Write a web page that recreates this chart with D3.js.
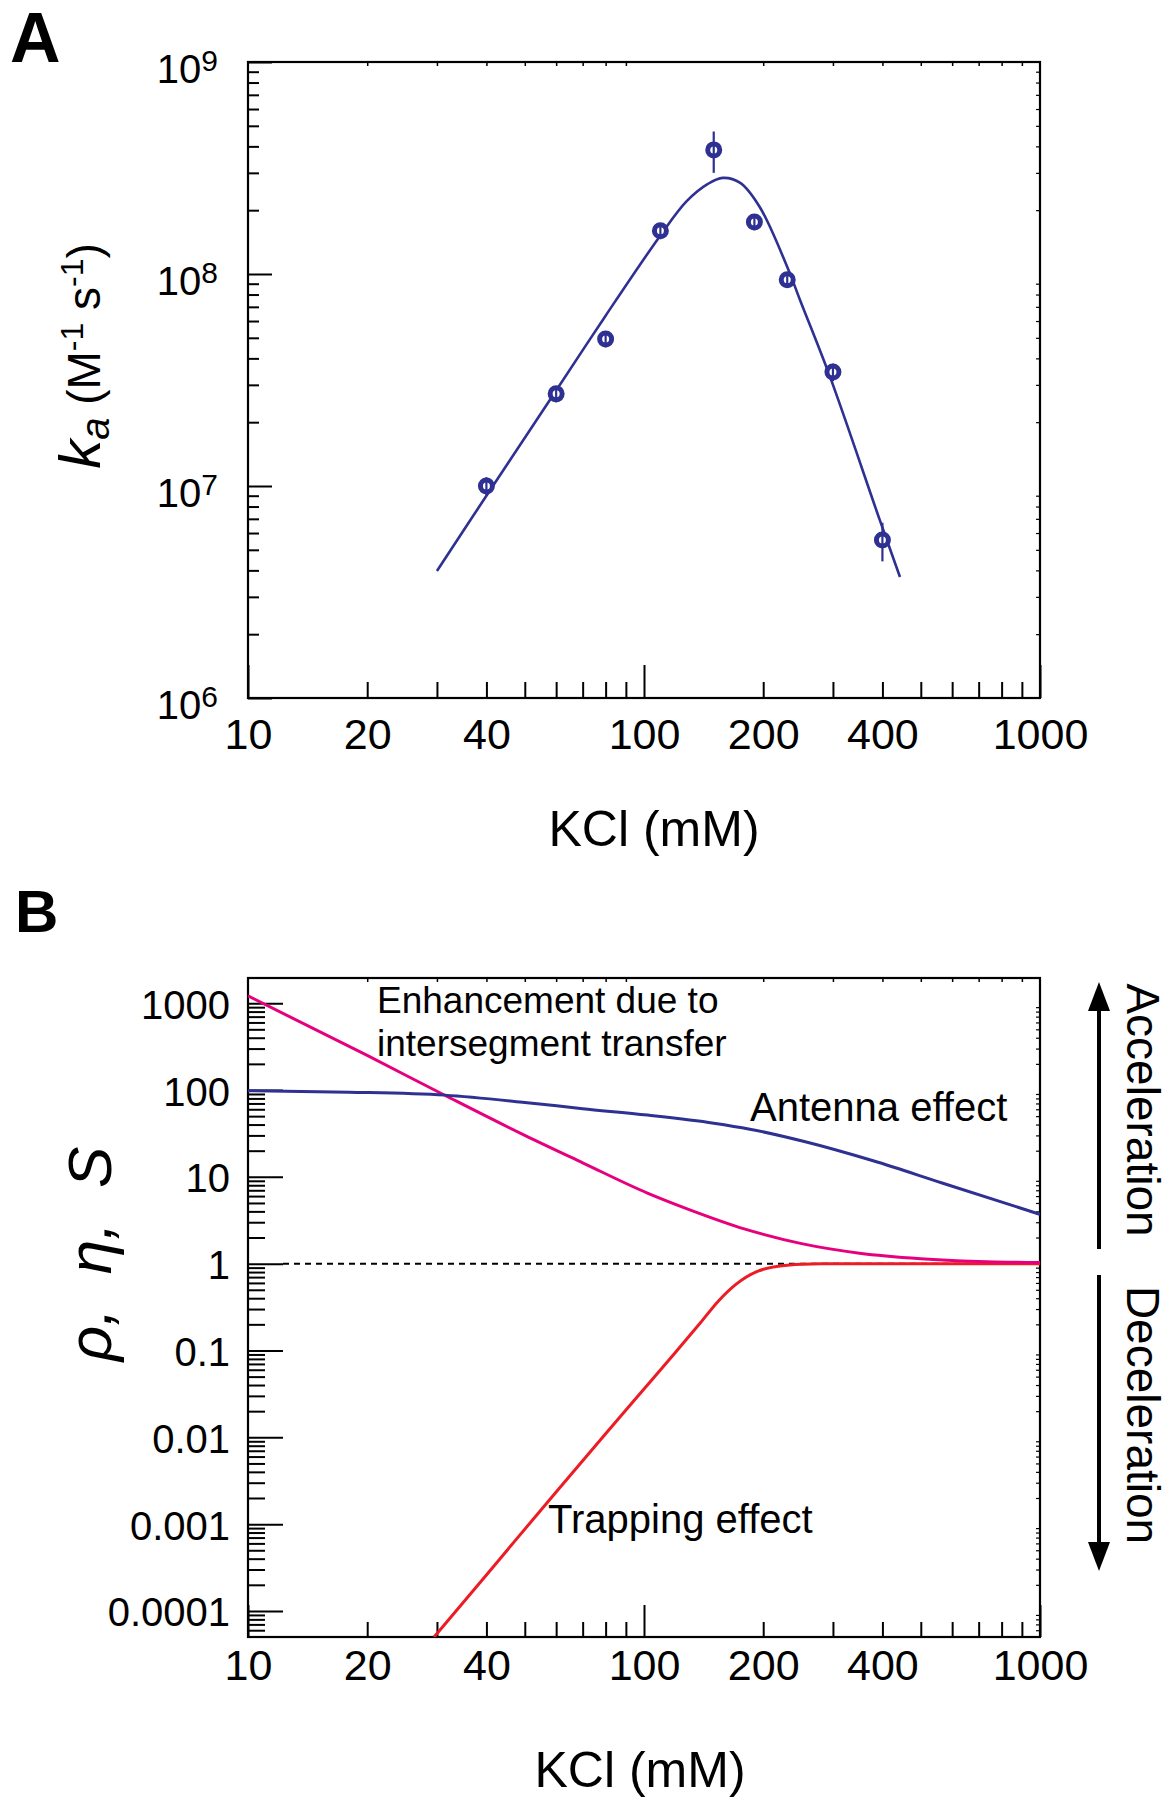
<!DOCTYPE html>
<html>
<head>
<meta charset="utf-8">
<script src="https://cdn.jsdelivr.net/npm/d3@7"></script>
<style>
  html, body { margin: 0; padding: 0; background: #fff; }
  svg { display: block; }
  text { font-family: 'Liberation Sans', Arial, Helvetica, sans-serif; fill: #000; }
</style>
</head>
<body>
<svg id="chart" width="1176" height="1800"></svg>
<script>
// ---------------- DATA ----------------
// Panel A: measured association rate constants
const kclA   = [40, 60, 80, 110, 150, 190, 230, 300, 400];
const kaA    = [1.0e7, 2.72e7, 4.94e7, 1.6e8, 3.85e8, 1.76e8, 9.4e7, 3.45e7, 5.56e6];
const kaErr  = [1.0e6, 2.4e6, 4.3e6, 1.4e7, 8.5e7, 1.5e7, 8.0e6, 3.3e6, 1.15e6];
// Panel A: fitted curve
const fitKCl = [30, 40, 60, 80, 110, 128, 145, 158, 175, 196, 230, 248, 295, 394, 443];
const fitKa  = [3.97e6, 9.0e6, 2.82e7, 6.36e7, 1.52e8, 2.2e8, 2.66e8, 2.84e8, 2.69e8, 2.07e8, 1.08e8, 7.5e7, 3.27e7, 6.9e6, 3.72e6];

// Panel B curves
const antKCl = [10, 18, 31.4, 50, 70, 102, 150, 185, 254, 379, 566, 1000];
const antVal = [98, 94.5, 87.3, 72, 61, 51.4, 41.5, 35.4, 25.5, 15.3, 8.5, 3.7];
const enhKCl = [10, 20, 31.4, 50, 70, 102, 130, 180, 250, 350, 500, 700, 1000];
const enhVal = [1213, 250, 87, 30, 14.5, 6.5, 4.2, 2.5, 1.7, 1.32, 1.14, 1.06, 1.03];
const trpKCl = [29.5, 40, 60, 80, 100, 120, 139, 154, 170, 194, 230, 280, 350, 500, 1000];
const trpVal = [5.0e-5, 2.6e-4, 2.35e-3, 1.1e-2, 3.6e-2, 0.095, 0.21, 0.37, 0.57, 0.82, 0.96, 0.995, 1.0, 1.0, 1.0];

// Tick labels
const xTickVals   = [10, 20, 40, 100, 200, 400, 1000];
const xTickLabels = ["10", "20", "40", "100", "200", "400", "1000"];
const yATickVals  = [1e6, 1e7, 1e8, 1e9];
const yATickExp   = ["6", "7", "8", "9"];
const yBTickVals  = [1000, 100, 10, 1, 0.1, 0.01, 0.001, 0.0001];
const yBTickLabels = ["1000", "100", "10", "1", "0.1", "0.01", "0.001", "0.0001"];

// ---------------- STYLE ----------------
const BLUE = "#2e3192", PINK = "#e6007e", RED = "#ed1c24";
const svg = d3.select("#chart");

function minorsBetween(lo, hi) {
  const out = [];
  for (let e = -6; e <= 9; e++) {
    for (let k = 2; k <= 9; k++) {
      const v = k * Math.pow(10, e);
      if (v > lo * 1.0001 && v < hi * 0.9999) out.push(v);
    }
  }
  return out;
}
function majorsBetween(lo, hi) {
  const out = [];
  for (let e = -6; e <= 9; e++) {
    const v = Math.pow(10, e);
    if (v >= lo * 0.9999 && v <= hi * 1.0001) out.push(v);
  }
  return out;
}
function styleAxis(sel, w) {
  sel.select(".domain").remove();
  sel.selectAll("line").attr("stroke", "#000").attr("stroke-width", w || 2);
}

function drawFrame(x, y, o) {
  const [x0, x1] = x.range(), [y0, y1] = y.range();
  const xd = x.domain(), yd = y.domain();
  const g = svg.append("g");
  g.append("g").attr("transform", `translate(0,${y0})`)
    .call(d3.axisBottom(x).tickValues(minorsBetween(xd[0], xd[1])).tickSize(-o.xMinor).tickFormat(""))
    .call(s => styleAxis(s));
  g.append("g").attr("transform", `translate(0,${y0})`)
    .call(d3.axisBottom(x).tickValues(majorsBetween(xd[0], xd[1])).tickSize(-o.xMajor).tickFormat(""))
    .call(s => styleAxis(s));
  g.append("g").attr("transform", `translate(0,${y1})`)
    .call(d3.axisTop(x).tickValues(minorsBetween(xd[0], xd[1])).tickSize(-4).tickFormat(""))
    .call(s => styleAxis(s, 1.5));
  g.append("g").attr("transform", `translate(${x0},0)`)
    .call(d3.axisLeft(y).tickValues(minorsBetween(yd[0], yd[1])).tickSize(-o.yMinor).tickFormat(""))
    .call(s => styleAxis(s));
  g.append("g").attr("transform", `translate(${x0},0)`)
    .call(d3.axisLeft(y).tickValues(majorsBetween(yd[0], yd[1])).tickSize(-o.yMajor).tickFormat(""))
    .call(s => styleAxis(s));
  g.append("g").attr("transform", `translate(${x1},0)`)
    .call(d3.axisRight(y).tickValues(minorsBetween(yd[0], yd[1])).tickSize(-4).tickFormat(""))
    .call(s => styleAxis(s, 1.2));
  g.append("rect").attr("x", x0).attr("y", y1).attr("width", x1 - x0).attr("height", y0 - y1)
    .attr("fill", "none").attr("stroke", "#000").attr("stroke-width", 2.2);
  g.append("g").attr("transform", `translate(0,${y0})`)
    .call(d3.axisBottom(x).tickValues(xTickVals).tickSize(0)
      .tickFormat((d, i) => xTickLabels[i]))
    .call(s => { s.select(".domain").remove(); })
    .selectAll("text").attr("y", o.xLabelDy).attr("dy", 0)
    .attr("font-size", 43).attr("fill", "#000");
  return g;
}

// ================= PANEL A =================
const xA = d3.scaleLog().domain([10, 1000]).range([248, 1040]);
const yA = d3.scaleLog().domain([1e6, 1e9]).range([698, 62]);

drawFrame(xA, yA, { xMinor: 16, xMajor: 33, yMinor: 11, yMajor: 24, xLabelDy: 51 });

const yAx = svg.append("g").attr("transform", "translate(248,0)")
  .call(d3.axisLeft(yA).tickValues(yATickVals).tickSize(0).tickFormat(""));
yAx.select(".domain").remove();
yAx.selectAll(".tick").each(function (d, i) {
  const t = d3.select(this).append("text")
    .attr("x", -30).attr("y", 20).attr("text-anchor", "end").attr("font-size", 40);
  t.append("tspan").text("10");
  t.append("tspan").attr("font-size", 30).attr("dy", -12).text(yATickExp[i]);
});

// fitted curve
svg.append("path")
  .datum(fitKCl.map((k, i) => [k, fitKa[i]]))
  .attr("fill", "none").attr("stroke", BLUE).attr("stroke-width", 2.6)
  .attr("d", d3.line().x(d => xA(d[0])).y(d => yA(d[1])).curve(d3.curveCatmullRom.alpha(0.5)));

// data points
const pts = kclA.map((k, i) => ({ k, v: kaA[i], e: kaErr[i] }));
const pg = svg.append("g");
pg.selectAll("circle").data(pts).join("circle")
  .attr("cx", d => xA(d.k)).attr("cy", d => yA(d.v)).attr("r", 6)
  .attr("fill", "#fff").attr("stroke", BLUE).attr("stroke-width", 5);
pg.selectAll("line.err").data(pts).join("line").attr("class", "err")
  .attr("x1", d => xA(d.k)).attr("x2", d => xA(d.k))
  .attr("y1", d => yA(d.v + d.e)).attr("y2", d => yA(d.v - d.e))
  .attr("stroke", BLUE).attr("stroke-width", 2.2);

// axis titles
const yTitleA = svg.append("text").attr("transform", "translate(100,356) rotate(-90)")
  .attr("text-anchor", "middle");
yTitleA.append("tspan").attr("font-size", 58).attr("font-style", "italic").text("k");
yTitleA.append("tspan").attr("font-size", 40).attr("font-style", "italic").attr("dy", 9).text("a");
yTitleA.append("tspan").attr("font-size", 46).attr("dy", -9).text(" (M");
yTitleA.append("tspan").attr("font-size", 32).attr("dy", -17).text("-1");
yTitleA.append("tspan").attr("font-size", 46).attr("dy", 17).text(" s");
yTitleA.append("tspan").attr("font-size", 32).attr("dy", -17).text("-1");
yTitleA.append("tspan").attr("font-size", 46).attr("dy", 17).text(")");

svg.append("text").attr("x", 654).attr("y", 846).attr("text-anchor", "middle")
  .attr("font-size", 50).text("KCl (mM)");

svg.append("text").attr("x", 10).attr("y", 62).attr("font-size", 70)
  .attr("font-weight", "bold").text("A");

// ================= PANEL B =================
const xB = d3.scaleLog().domain([10, 1000]).range([248, 1040]);
const yB = d3.scaleLog().domain([Math.pow(10, -4.3), Math.pow(10, 3.29)]).range([1637, 978]);

svg.append("defs").append("clipPath").attr("id", "clipB")
  .append("rect").attr("x", 248).attr("y", 978).attr("width", 792).attr("height", 659);

svg.append("line")
  .attr("x1", xB(10) + 35).attr("x2", xB(1000)).attr("y1", yB(1)).attr("y2", yB(1))
  .attr("stroke", "#000").attr("stroke-width", 2).attr("stroke-dasharray", "6,5");

drawFrame(xB, yB, { xMinor: 15, xMajor: 32, yMinor: 17, yMajor: 35, xLabelDy: 43 });

const yBx = svg.append("g").attr("transform", "translate(248,0)")
  .call(d3.axisLeft(yB).tickValues(yBTickVals).tickSize(0).tickFormat((d, i) => yBTickLabels[i]));
yBx.select(".domain").remove();
yBx.selectAll("text").attr("x", -18).attr("dy", 0).attr("y", 15).attr("font-size", 40).attr("fill", "#000");

const lineB = d3.line().x(d => xB(d[0])).y(d => yB(d[1])).curve(d3.curveMonotoneX);
const cg = svg.append("g").attr("clip-path", "url(#clipB)");
cg.append("path").datum(trpKCl.map((k, i) => [k, trpVal[i]]))
  .attr("fill", "none").attr("stroke", RED).attr("stroke-width", 3).attr("d", lineB);
cg.append("path").datum(enhKCl.map((k, i) => [k, enhVal[i]]))
  .attr("fill", "none").attr("stroke", PINK).attr("stroke-width", 3).attr("d", lineB);
cg.append("path").datum(antKCl.map((k, i) => [k, antVal[i]]))
  .attr("fill", "none").attr("stroke", BLUE).attr("stroke-width", 3).attr("d", lineB);

// annotations
svg.append("text").attr("x", 377).attr("y", 1013).attr("font-size", 37).text("Enhancement due to");
svg.append("text").attr("x", 377).attr("y", 1056).attr("font-size", 37).text("intersegment transfer");
svg.append("text").attr("x", 750).attr("y", 1121).attr("font-size", 40).text("Antenna effect");
svg.append("text").attr("x", 548).attr("y", 1533).attr("font-size", 40).text("Trapping effect");

// titles
svg.append("text").attr("transform", "translate(111,1254) rotate(-90)")
  .attr("text-anchor", "middle").attr("font-size", 62).attr("font-style", "italic")
  .style("white-space", "pre").text("ρ,  η,  S");

svg.append("text").attr("x", 640).attr("y", 1787).attr("text-anchor", "middle")
  .attr("font-size", 50).text("KCl (mM)");

svg.append("text").attr("x", 15).attr("y", 932).attr("font-size", 60)
  .attr("font-weight", "bold").text("B");

// acceleration / deceleration arrows
const ax = 1099;
svg.append("line").attr("x1", ax).attr("x2", ax).attr("y1", 1249).attr("y2", 1005)
  .attr("stroke", "#000").attr("stroke-width", 4);
svg.append("path").attr("d", `M${ax},982 L${ax - 11},1011 L${ax + 11},1011 Z`).attr("fill", "#000");
svg.append("line").attr("x1", ax).attr("x2", ax).attr("y1", 1275).attr("y2", 1548)
  .attr("stroke", "#000").attr("stroke-width", 4);
svg.append("path").attr("d", `M${ax},1571 L${ax - 11},1542 L${ax + 11},1542 Z`).attr("fill", "#000");

svg.append("text").attr("transform", "translate(1127,1110) rotate(90)")
  .attr("text-anchor", "middle").attr("font-size", 46).text("Acceleration");
svg.append("text").attr("transform", "translate(1127,1415) rotate(90)")
  .attr("text-anchor", "middle").attr("font-size", 46).text("Deceleration");
</script>
</body>
</html>
